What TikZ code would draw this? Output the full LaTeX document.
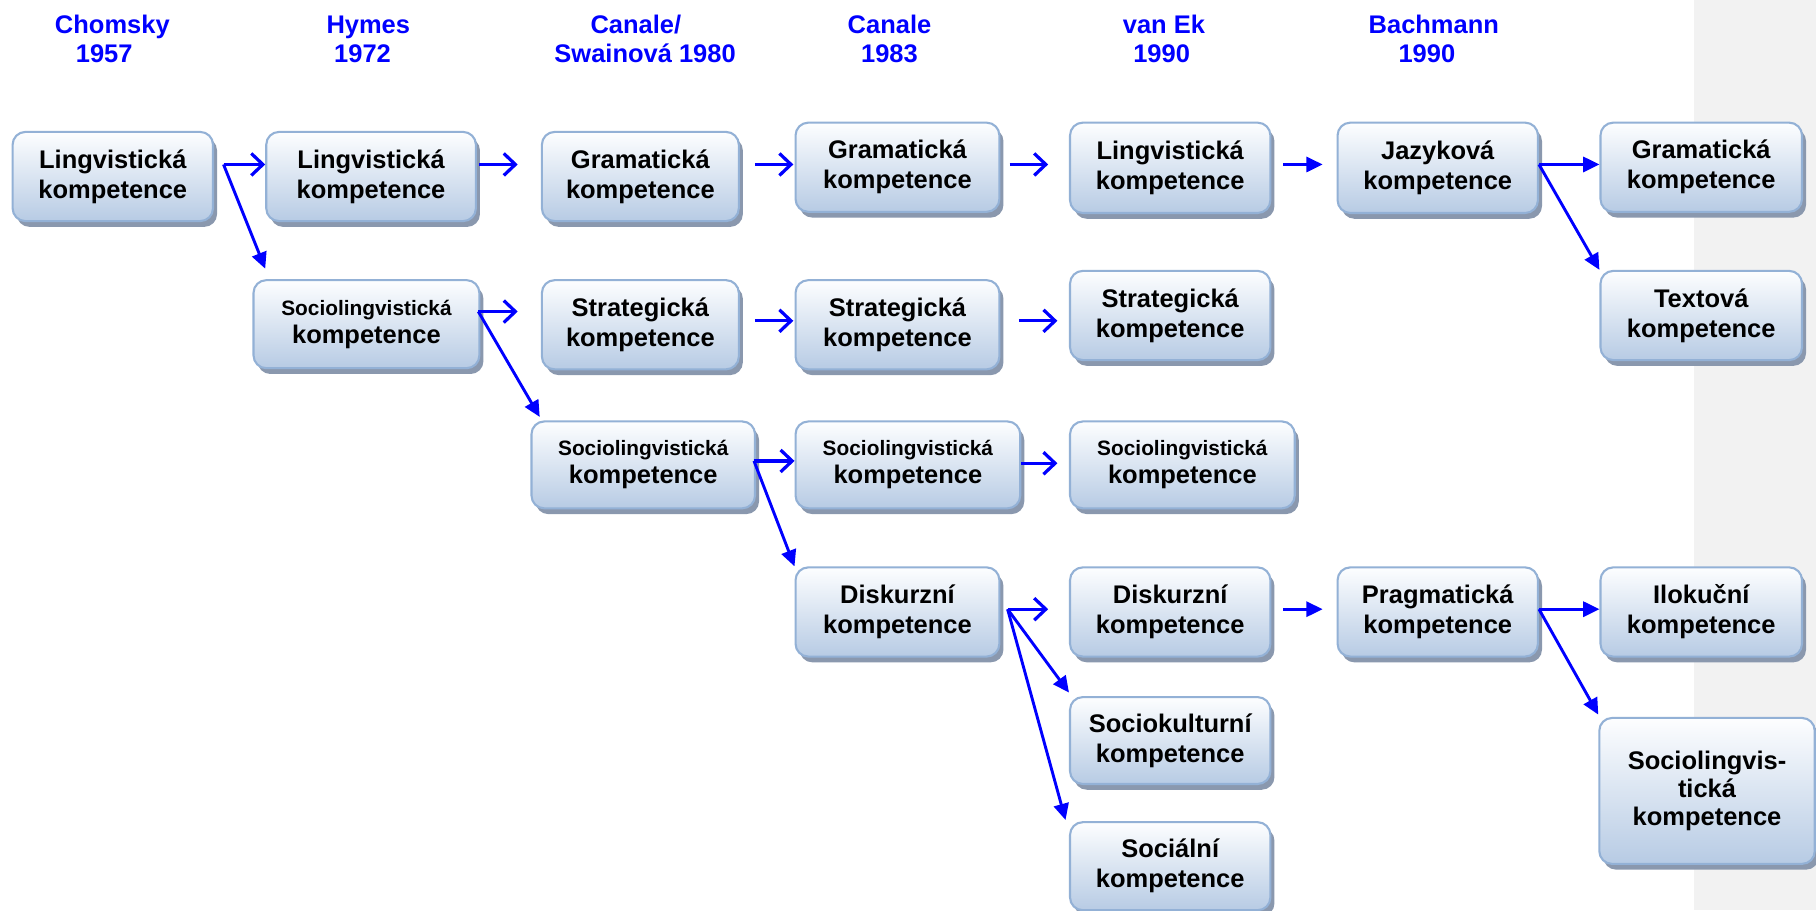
\documentclass[tikz,border=0pt]{standalone}
\usepackage{fontspec}
\setmainfont{Liberation Sans}
\usetikzlibrary{arrows.meta,shadows,calc}

\definecolor{arrblue}{RGB}{0,0,255}
\definecolor{boxtop}{RGB}{253,254,255}
\definecolor{boxbot}{RGB}{183,203,228}
\definecolor{boxline}{RGB}{147,177,214}
\definecolor{boxshadow}{RGB}{138,152,174}
\definecolor{panelgrey}{RGB}{242,242,242}

\begin{document}
\begin{tikzpicture}[x=1pt,y=-1pt,
  box/.style={draw=boxline, line width=1.8pt, rounded corners=11pt,
    top color=boxtop, bottom color=boxbot,
    anchor=north west, inner sep=0pt, align=center,
    font=\fontsize{22}{26}\selectfont\bfseries,
    drop shadow={shadow xshift=3.5pt, shadow yshift=-5pt, fill=boxshadow, opacity=1}},
  hdr/.style={text=arrblue, align=center, inner sep=0pt,
    font=\fontsize{22}{25}\selectfont\bfseries},
  oarr/.style={draw=arrblue, line width=2.8pt,
    -{Straight Barb[length=10pt,width=19pt]}},
  farr/.style={draw=arrblue, line width=2.5pt,
    -{Triangle[length=14pt,width=13pt]}}]

% canvas and grey side panel
\useasboundingbox (0,0) rectangle (1568,786);
\fill[white] (0,0) rectangle (1568,786);
\fill[panelgrey] (1463,0) rectangle (1568,786);

% column headings
\node[hdr] (h1) at (97,33.5)  {Chomsky\\\hspace*{-14pt}1957};
\node[hdr] (h2) at (318,34) {Hymes\\\hspace*{-10pt}1972};
\node[hdr] (h3) at (549,33.5) {Canale/\\\hspace*{16pt}Swainová 1980};
\node[hdr] (h4) at (768,33.5) {Canale\\1983};
\node[hdr] (h5) at (1005,33.5) {van Ek\\\hspace*{-4pt}1990};
\node[hdr] (h6) at (1238,33.5) {Bachmann\\\hspace*{-12pt}1990};

% row 1
\node[box, minimum width=173pt, minimum height=77pt] (A1) at (10,113)  {Lingvistická\\kompetence};
\node[box, minimum width=181pt, minimum height=77pt] (A2) at (229,113) {Lingvistická\\kompetence};
\node[box, minimum width=170pt, minimum height=77pt] (A3) at (467,113) {Gramatická\\kompetence};
\node[box, minimum width=176pt, minimum height=77pt] (A4) at (686,105) {Gramatická\\kompetence};
\node[box, minimum width=173pt, minimum height=78pt] (A5) at (923,105) {Lingvistická\\kompetence};
\node[box, minimum width=173pt, minimum height=78pt] (A6) at (1154,105) {Jazyková\\kompetence};
\node[box, minimum width=174pt, minimum height=77pt] (A7) at (1381,105) {Gramatická\\kompetence};

% row 2
\node[box, minimum width=195pt, minimum height=76pt] (B2) at (218,241) {{\fontsize{18}{20}\selectfont Sociolingvistická}\\[-2pt]kompetence};
\node[box, minimum width=170pt, minimum height=77pt] (B3) at (467,241) {Strategická\\kompetence};
\node[box, minimum width=176pt, minimum height=77pt] (B4) at (686,241) {Strategická\\kompetence};
\node[box, minimum width=173pt, minimum height=77pt] (B5) at (923,233) {Strategická\\kompetence};
\node[box, minimum width=174pt, minimum height=77pt] (B7) at (1381,233) {Textová\\kompetence};

% row 3
\node[box, minimum width=193pt, minimum height=75pt] (C3) at (458,363) {{\fontsize{18}{20}\selectfont Sociolingvistická}\\[-2pt]kompetence};
\node[box, minimum width=194pt, minimum height=75pt] (C4) at (686,363) {{\fontsize{18}{20}\selectfont Sociolingvistická}\\[-2pt]kompetence};
\node[box, minimum width=194pt, minimum height=75pt] (C5) at (923,363) {{\fontsize{18}{20}\selectfont Sociolingvistická}\\[-2pt]kompetence};

% row 4
\node[box, minimum width=176pt, minimum height=77pt] (D4) at (686,489)  {Diskurzní\\kompetence};
\node[box, minimum width=173pt, minimum height=77pt] (D5) at (923,489)  {Diskurzní\\kompetence};
\node[box, minimum width=173pt, minimum height=77pt] (D6) at (1154,489) {Pragmatická\\kompetence};
\node[box, minimum width=174pt, minimum height=77pt] (D7) at (1381,489) {Ilokuční\\kompetence};

% rows 5 and 6
\node[box, minimum width=173pt, minimum height=75pt]  (E5) at (923,601)  {Sociokulturní\\kompetence};
\node[box, minimum width=186pt, minimum height=126pt] (E7) at (1380,619) {Sociolingvis-\\[-2pt]tická\\[-2pt]kompetence};
\node[box, minimum width=173pt, minimum height=76pt]  (F5) at (923,709)  {Sociální\\kompetence};

% connectors, row 1
\coordinate (f1) at (193,142);
\draw[oarr] (f1) -- (A2.west |- f1);
\draw[farr] (f1) -- ($(B2.north west)+(11,-9)$);
\draw[oarr, shorten <=2pt, shorten >=20pt] (A2.east |- f1) -- (A3.west |- f1);
\draw[oarr, shorten <=13pt, shorten >=1pt] (A3.east |- f1) -- (A4.west |- f1);
\draw[oarr, shorten <=8pt, shorten >=18pt] (A4.east |- f1) -- (A5.west |- f1);
\draw[farr, shorten <=10pt, shorten >=12pt] (A5.east |- f1) -- (A6.west |- f1);
\coordinate (f6) at (A6.east |- f1);
\draw[farr] (f6) -- (A7.west |- f6);
\draw[farr] (f6) -- (B7.north west);

% connectors, row 2
\coordinate (f2) at (413,269);
\draw[oarr, shorten >=20pt] (f2) -- (B3.west |- f2);
\draw[farr] (f2) -- ($(C3.north west)+(8,-3)$);
\coordinate (r2) at (0,277);
\draw[oarr, shorten <=13pt, shorten >=1pt] (B3.east |- r2) -- (B4.west |- r2);
\draw[oarr, shorten <=16pt, shorten >=10pt] (B4.east |- r2) -- (B5.west |- r2);

% connectors, row 3
\coordinate (f3) at (651,398);
\draw[oarr] (f3) -- (C4.west |- f3);
\draw[farr] (f3) -- (D4.north west);
\coordinate (r3) at (0,400);
\draw[oarr, shorten >=10pt] (C4.east |- r3) -- (C5.west |- r3);

% connectors, row 4
\coordinate (f4) at (870,526);
\draw[oarr, shorten >=18pt] (f4) -- (D5.west |- f4);
\draw[farr] (f4) -- ($(E5.north west)+(0,-3)$);
\draw[farr] (f4) -- ($(F5.north west)+(-3,-1)$);
\draw[farr, shorten <=10pt, shorten >=12pt] (D5.east |- f4) -- (D6.west |- f4);
\coordinate (f7) at (D6.east |- f4);
\draw[farr] (f7) -- (D7.west |- f7);
\draw[farr] (f7) -- ($(E7.north west)+(0,-2)$);
\end{tikzpicture}
\end{document}
